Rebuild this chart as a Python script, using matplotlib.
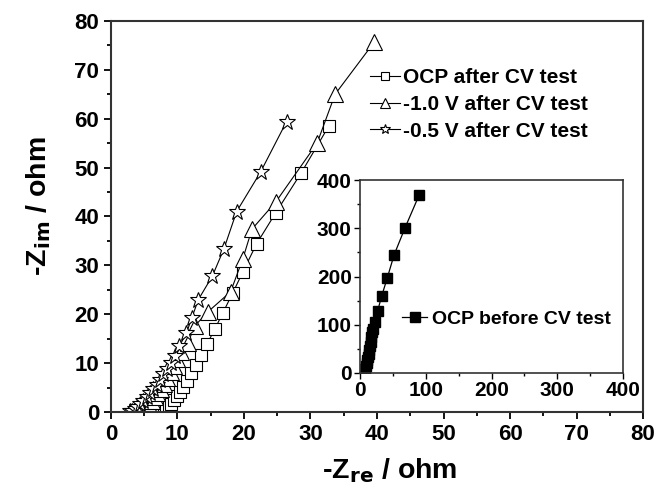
import matplotlib
matplotlib.use("Agg")
import matplotlib.pyplot as plt

plt.rcParams['font.family'] = ['Liberation Sans', 'DejaVu Sans']
plt.rcParams['font.weight'] = 'bold'

# OCP after CV test (quadrados)
ocp_x = [8.0, 8.3, 8.7, 9.1, 9.5, 9.9, 10.4, 10.9, 11.45, 12.1, 12.85, 13.6,
         14.45, 15.6, 16.8, 18.3, 19.85, 21.9, 24.8, 28.6, 32.8]
ocp_y = [0.3, 0.6, 1.1, 1.7, 2.4, 3.2, 4.1, 5.2, 6.4, 7.9, 9.6, 11.7,
         13.9, 16.9, 20.2, 24.3, 28.7, 34.4, 40.8, 48.9, 58.6]

# -1.0 V after CV test (triangulos)
v10_x = [4.2, 4.6, 5.0, 5.4, 5.8, 6.2, 6.6, 7.0, 7.5, 8.0, 8.5, 9.0, 9.5, 10.0,
         10.6, 11.6, 12.6, 14.6, 18.0, 19.85, 21.2, 24.8, 31.0, 33.7, 39.6]
v10_y = [0.05, 0.1, 0.4, 0.9, 1.5, 2.2, 3.0, 3.9, 4.8, 5.8, 6.9, 8.1, 9.4, 10.8,
         12.3, 14.2, 17.6, 20.5, 24.6, 31.4, 37.4, 43.0, 55.0, 65.0, 75.7]

# -0.5 V after CV test (estrelas)
v05_x = [2.9, 3.2, 3.6, 4.0, 4.4, 4.9, 5.4, 5.9, 6.4, 6.9, 7.4, 7.9, 8.4, 9.0,
         9.6, 10.25, 11.35, 12.15, 13.15, 15.25, 17.0, 18.9, 22.5, 26.4]
v05_y = [0.1, 0.3, 0.6, 1.0, 1.6, 2.3, 3.0, 3.8, 4.7, 5.6, 6.6, 7.7, 8.8, 10.0,
         11.5, 13.4, 16.1, 19.2, 23.0, 27.8, 33.4, 41.0, 49.1, 59.4]

# OCP before CV test (detalhe)
bef_x = [5, 6, 7, 8, 9, 10, 11, 12, 13, 14, 15, 16, 17, 18, 20, 22.8, 26.9,
         33.0, 41.6, 51.8, 68.5, 90.3]
bef_y = [0.5, 2, 5, 9, 14, 20, 26, 33, 40, 48, 56, 65, 75, 85, 92, 105, 129,
         159.6, 197.6, 244.6, 301, 370]

fig = plt.figure(figsize=(6.72, 4.96), dpi=100)
ax = fig.add_axes([0.165, 0.1694, 0.792, 0.7883])

estilo = dict(color='black', lw=0.8, mfc='white', mec='black', mew=0.8)
ax.plot(ocp_x, ocp_y, marker='s', ms=9, label='OCP after CV test', **estilo)
ax.plot(v10_x, v10_y, marker='^', ms=11, label='-1.0 V after CV test', **estilo)
ax.plot(v05_x, v05_y, marker='*', ms=12, label='-0.5 V after CV test', **estilo)

ax.set_xlim(0, 80)
ax.set_ylim(0, 80)
ax.set_xticks(range(0, 81, 10))
ax.set_yticks(range(0, 81, 10))
ax.set_xticks(range(5, 80, 10), minor=True)
ax.set_yticks(range(5, 80, 10), minor=True)
ax.tick_params(which='both', direction='out', top=False, right=False,
               labelsize=16, width=1.3)
ax.tick_params(which='major', length=5)
ax.tick_params(which='minor', length=3)
for s in ax.spines.values():
    s.set_linewidth(1.5)
    s.set_color('#333333')
for t in ax.get_xticklabels() + ax.get_yticklabels():
    t.set_fontweight('bold')

ax.set_xlabel(r'-Z$_{\mathbf{re}}$ / ohm', fontsize=20.5, fontweight='bold')
ax.set_ylabel(r'-Z$_{\mathbf{im}}$ / ohm', fontsize=20.5, fontweight='bold')
ax.xaxis.set_label_coords(0.523, -0.112)
ax.yaxis.set_label_coords(-0.109, 0.527)

leg = ax.legend(loc='upper left', bbox_to_anchor=(0.487, 0.88), frameon=False,
                prop={'size': 15, 'weight': 'bold'}, handlelength=1.45,
                handletextpad=0.12, labelspacing=0.38, markerscale=0.6,
                borderaxespad=0, borderpad=0)

# grafico de detalhe
ins = fig.add_axes([0.5357, 0.248, 0.3914, 0.389])
ins.plot(bef_x, bef_y, marker='s', ms=6.5, color='black', lw=0.9,
         mfc='black', mec='black', label='OCP before CV test')
ins.set_xlim(0, 400)
ins.set_ylim(0, 400)
ins.set_xticks(range(0, 401, 100))
ins.set_yticks(range(0, 401, 100))
ins.set_xticks(range(50, 400, 100), minor=True)
ins.set_yticks(range(50, 400, 100), minor=True)
ins.tick_params(which='both', direction='out', top=False, right=False,
                labelsize=15, width=1.0, pad=2)
ins.tick_params(which='major', length=4)
ins.tick_params(which='minor', length=2.5)
for s in ins.spines.values():
    s.set_linewidth(1.2)
    s.set_color('#333333')
for t in ins.get_xticklabels() + ins.get_yticklabels():
    t.set_fontweight('bold')
ins.legend(loc='center left', bbox_to_anchor=(0.16, 0.28), frameon=False,
           prop={'size': 14, 'weight': 'bold'}, handlelength=1.3,
           handletextpad=0.25, borderaxespad=0, borderpad=0)

fig.savefig('out.png', dpi=100)
